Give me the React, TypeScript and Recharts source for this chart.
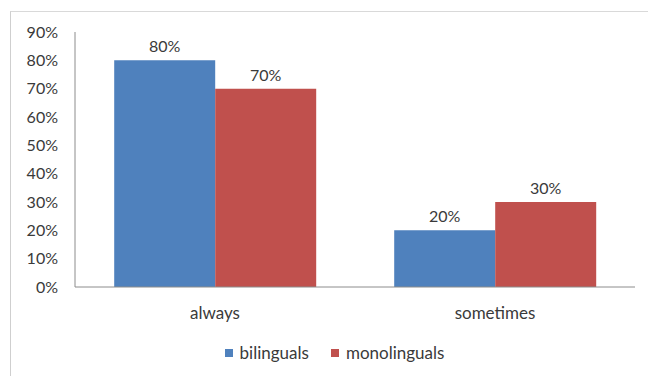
import React from "react";
import { BarChart, Bar, XAxis, YAxis, Legend, LabelList } from "recharts";

const categories = ["always", "sometimes"];
const bilingualValues = [80, 20];
const monolingualValues = [70, 30];
const yTicks = [0, 10, 20, 30, 40, 50, 60, 70, 80, 90];
const seriesNames = ["bilinguals", "monolinguals"];
const seriesColors = ["#4F81BD", "#C0504D"];

const data = categories.map((c, i) => ({
  name: c,
  bilinguals: bilingualValues[i],
  monolinguals: monolingualValues[i],
}));

const FONT = "Lato, 'Open Sans', sans-serif";
const TEXT = "#3a3a3a";

const LegendContent = () => (
  <div style={{ display: "flex", justifyContent: "center", paddingLeft: 34, fontFamily: FONT, fontSize: 17, color: TEXT, lineHeight: "20px" }}>
    {seriesNames.map((n, i) => (
      <div key={n} style={{ display: "flex", alignItems: "center", marginRight: i === 0 ? 22 : 0 }}>
        <span style={{ display: "inline-block", width: 8, height: 8, background: seriesColors[i], marginRight: 7 }} />
        <span>{n}</span>
      </div>
    ))}
  </div>
);

export default function App() {
  return (
    <div style={{ position: "absolute", left: 0, top: 0, width: 648, height: 376, background: "#fff", overflow: "hidden" }}>
      <div style={{ position: "absolute", left: 10, top: 11, width: 700, height: 400, borderLeft: "1px solid #cfcfcf", borderTop: "1px solid #d9d9d9" }} />
      <BarChart
        width={648}
        height={376}
        data={data}
        margin={{ top: 32, right: 13, left: 0, bottom: 3 }}
        barCategoryGap="14%"
        barGap={0}
        style={{ position: "absolute", left: 0, top: 0 }}
      >
        <XAxis
          dataKey="name"
          tickLine={false}
          axisLine={{ stroke: "#8c8c8c" }}
          tick={{ fill: TEXT, fontSize: 17, fontFamily: FONT }}
          tickMargin={14}
          height={56}
        />
        <YAxis
          width={75}
          domain={[0, 90]}
          ticks={yTicks}
          interval={0}
          tickLine={false}
          axisLine={{ stroke: "#8c8c8c" }}
          tick={{ fill: TEXT, fontSize: 16, fontFamily: FONT }}
          tickFormatter={(v: number) => `${v}%`}
          tickMargin={11}
        />
        <Legend verticalAlign="bottom" height={30} content={<LegendContent />} />
        <Bar dataKey="bilinguals" fill={seriesColors[0]} isAnimationActive={false}>
          <LabelList dataKey="bilinguals" position="top" offset={8} formatter={(v: number) => `${v}%`} style={{ fill: TEXT, fontSize: 16, fontFamily: FONT }} />
        </Bar>
        <Bar dataKey="monolinguals" fill={seriesColors[1]} isAnimationActive={false}>
          <LabelList dataKey="monolinguals" position="top" offset={8} formatter={(v: number) => `${v}%`} style={{ fill: TEXT, fontSize: 16, fontFamily: FONT }} />
        </Bar>
      </BarChart>
    </div>
  );
}
